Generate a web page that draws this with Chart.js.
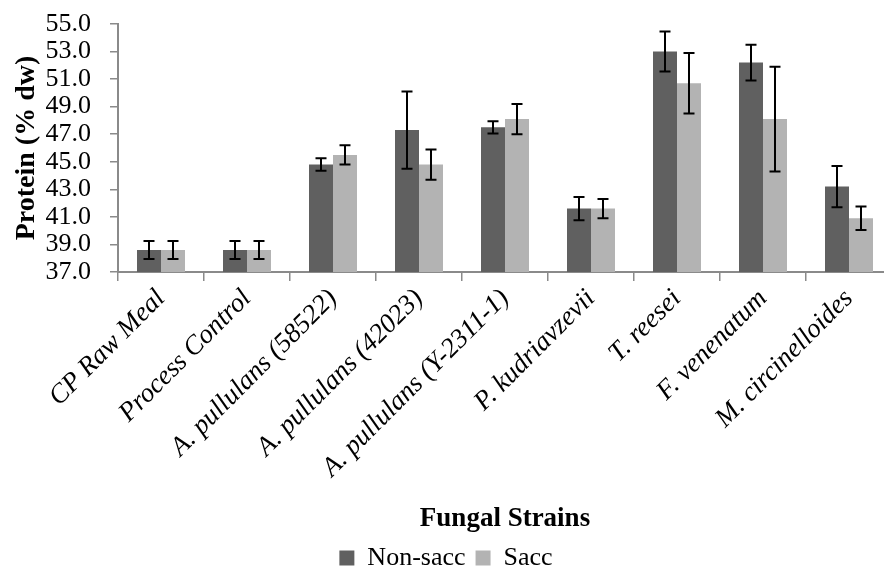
<!DOCTYPE html>
<html>
<head>
<meta charset="utf-8">
<title>Protein by fungal strain</title>
<script src="https://cdn.jsdelivr.net/npm/chart.js@4.4.1/dist/chart.umd.min.js"></script>
<style>
  html, body { margin: 0; padding: 0; background: #fff; overflow: hidden; }
  #wrap { width: 884px; height: 567px; overflow: hidden; position: relative; }
  #holder { position: absolute; left: 0; top: 0; width: 900px; height: 581px; }
</style>
</head>
<body>
<div id="wrap"><div id="holder"><canvas id="proteinChart"></canvas></div></div>
<script>
// data
const strains = [
    'CP Raw Meal', 'Process Control', 'A. pullulans (58522)', 'A. pullulans (42023)',
    'A. pullulans (Y-2311-1)', 'P. kudriavzevii', 'T. reesei', 'F. venenatum', 'M. circinelloides'
];
const nonSacc = [38.6, 38.6, 44.8, 47.3, 47.5, 41.6, 53.0, 52.2, 43.2];
const nonSaccErr = [0.65, 0.65, 0.45, 2.8, 0.45, 0.85, 1.45, 1.3, 1.5];
const sacc = [38.6, 38.6, 45.5, 44.8, 48.1, 41.6, 50.7, 48.1, 40.9];
const saccErr = [0.65, 0.65, 0.7, 1.1, 1.1, 0.7, 2.2, 3.8, 0.85];
const yTicks = [37, 39, 41, 43, 45, 47, 49, 51, 53, 55];

const serif = 'Liberation Serif';
const axisGrey = '#8a8a8a';

// draws the +/- error whiskers on top of each bar
const errorBars = {
    id: 'errorBars',
    afterDatasetsDraw(chart) {
        const ctx = chart.ctx;
        const yScale = chart.scales.y;
        ctx.save();
        ctx.strokeStyle = '#000';
        ctx.lineWidth = 2;
        chart.data.datasets.forEach((ds, i) => {
            const meta = chart.getDatasetMeta(i);
            meta.data.forEach((bar, j) => {
                const v = ds.data[j];
                const e = ds.errors[j];
                const top = yScale.getPixelForValue(v + e);
                const bot = yScale.getPixelForValue(v - e);
                const cap = 5.5;
                ctx.beginPath();
                ctx.moveTo(bar.x, top);
                ctx.lineTo(bar.x, bot);
                ctx.moveTo(bar.x - cap, top);
                ctx.lineTo(bar.x + cap, top);
                ctx.moveTo(bar.x - cap, bot);
                ctx.lineTo(bar.x + cap, bot);
                ctx.stroke();
            });
        });
        ctx.restore();
    }
};

const initProteinChart = () => {
    const ctx = document.getElementById('proteinChart').getContext('2d');
    new Chart(ctx, {
        type: 'bar',
        data: {
            labels: strains,
            datasets: [{
                label: 'Non-sacc',
                data: nonSacc,
                errors: nonSaccErr,
                backgroundColor: '#606060',
                borderWidth: 0
            }, {
                label: 'Sacc',
                data: sacc,
                errors: saccErr,
                backgroundColor: '#b3b3b3',
                borderWidth: 0
            }]
        },
        options: {
            responsive: true,
            maintainAspectRatio: false,
            animation: false,
            datasets: {
                bar: {
                    barPercentage: 1,
                    categoryPercentage: 0.558
                }
            },
            layout: {
                padding: { top: 24, right: 8, left: 0, bottom: 0 }
            },
            plugins: {
                legend: {
                    position: 'bottom',
                    labels: {
                        boxWidth: 15,
                        boxHeight: 15,
                        padding: 10,
                        color: '#000',
                        font: { family: serif, size: 26 }
                    }
                },
                tooltip: { enabled: false }
            },
            scales: {
                x: {
                    grid: {
                        offset: true,
                        drawOnChartArea: false,
                        drawTicks: true,
                        tickLength: 9,
                        color: axisGrey,
                        lineWidth: 1.5
                    },
                    border: { color: axisGrey, width: 2 },
                    ticks: {
                        autoSkip: false,
                        minRotation: 45,
                        maxRotation: 45,
                        padding: 2,
                        color: '#000',
                        font: { family: serif, style: 'italic', size: 27 }
                    },
                    title: {
                        display: true,
                        text: 'Fungal Strains',
                        color: '#000',
                        font: { family: serif, weight: 'bold', size: 27 },
                        padding: { top: 0, bottom: 0 }
                    },
                    afterFit: scale => { scale.height = 263; }
                },
                y: {
                    min: 37,
                    max: 55,
                    afterBuildTicks: scale => {
                        scale.ticks = yTicks.map(v => ({ value: v }));
                    },
                    grid: {
                        drawOnChartArea: false,
                        drawTicks: true,
                        tickLength: 8,
                        color: axisGrey,
                        lineWidth: 1.5
                    },
                    border: { color: axisGrey, width: 2 },
                    ticks: {
                        autoSkip: false,
                        padding: 19,
                        color: '#000',
                        font: { family: serif, size: 26 },
                        callback: v => Number(v).toFixed(1)
                    },
                    title: {
                        display: true,
                        text: 'Protein (% dw)',
                        color: '#000',
                        font: { family: serif, weight: 'bold', size: 28 },
                        padding: { top: 10, bottom: 0 }
                    },
                    afterFit: scale => {
                        scale.width = 118;
                        // let layout.padding decide where the top gridline sits
                        scale.paddingTop = 0;
                    }
                }
            }
        },
        plugins: [errorBars]
    });
};

document.addEventListener('DOMContentLoaded', () => {
    initProteinChart();
});
</script>
</body>
</html>
